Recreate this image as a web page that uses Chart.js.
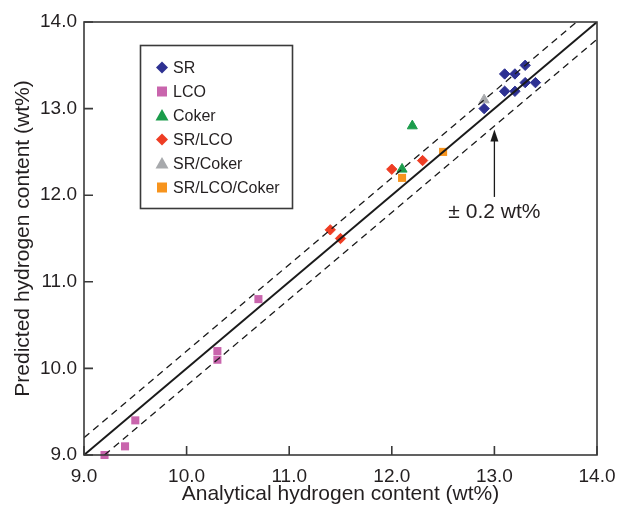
<!DOCTYPE html>
<html>
<head>
<meta charset="utf-8">
<script src="https://cdn.jsdelivr.net/npm/chart.js@4/dist/chart.umd.min.js"></script>
<style>
  html, body { margin: 0; padding: 0; background: #fff; }
</style>
</head>
<body>
<canvas id="grafico" width="619" height="507"></canvas>
<script>
// values
const srX = [13.1, 13.2, 13.3, 13.1, 13.2, 13.3, 13.4, 12.9];
const srY = [13.4, 13.4, 13.5, 13.2, 13.2, 13.3, 13.3, 13.0];
const lcoX = [10.7, 10.3, 10.3, 9.5, 9.4, 9.2];
const lcoY = [10.8, 10.2, 10.1, 9.4, 9.1, 9.0];
const cokerX = [12.2, 12.1];
const cokerY = [12.8, 12.3];
const srLcoX = [12.0, 12.3, 11.4, 11.5];
const srLcoY = [12.3, 12.4, 11.6, 11.5];
const srCokerX = [12.9];
const srCokerY = [13.1];
const srLcoCokerX = [12.1, 12.5];
const srLcoCokerY = [12.2, 12.5];

// y = x and the +/- 0.2 wt% band (end points)
const parityX = [9.0, 14.0];
const parityY = [9.0, 14.0];
const upperX = [9.0, 13.8];
const upperY = [9.2, 14.0];
const lowerX = [9.2, 14.0];
const lowerY = [9.0, 13.8];

const tickValues = [9, 10, 11, 12, 13, 14];

// arrow + label for the band
const arrowX = 13.0;
const arrowFrom = 11.98;
const arrowTo = 12.76;
const bandLabel = '± 0.2 wt%';
const bandLabelY = 11.80;

const FONT = "'Liberation Sans', Arial, Helvetica, sans-serif";
const TXT = '#231f20';
const AXIS = '#3a3a3a';

const pts = (xs, ys) => xs.map((x, i) => ({ x: x, y: ys[i] }));

function marker(label, xs, ys, color, style, r, bw) {
  return {
    label: label,
    data: pts(xs, ys),
    backgroundColor: color,
    borderColor: color,
    borderWidth: bw,
    pointStyle: style,
    pointRadius: r,
    pointHoverRadius: r,
    clip: false
  };
}

function refLine(xs, ys, width, dash) {
  return {
    type: 'line',
    label: '',
    data: pts(xs, ys),
    borderColor: '#1a1a1a',
    borderWidth: width,
    borderDash: dash,
    pointRadius: 0,
    fill: false,
    showLine: true,
    isRef: true
  };
}

const datasets = [
  refLine(parityX, parityY, 2, []),
  refLine(upperX, upperY, 1.3, [7, 5]),
  refLine(lowerX, lowerY, 1.3, [7, 5]),
  marker('SR', srX, srY, '#2e3192', 'rectRot', 5.2, 1),
  marker('LCO', lcoX, lcoY, '#c965ad', 'rect', 5.7, 0),
  marker('Coker', cokerX, cokerY, '#1b9c4b', 'triangle', 5.8, 1),
  marker('SR/LCO', srLcoX, srLcoY, '#ee3d24', 'rectRot', 5.2, 1),
  marker('SR/Coker', srCokerX, srCokerY, '#a7a9ac', 'triangle', 5.8, 1),
  marker('SR/LCO/Coker', srLcoCokerX, srLcoCokerY, '#f7941d', 'rect', 5.7, 0)
];

function drawMark(ctx, style, x, y, color) {
  ctx.save();
  ctx.fillStyle = color;
  ctx.beginPath();
  if (style === 'rectRot') {
    ctx.moveTo(x, y - 6); ctx.lineTo(x + 6, y); ctx.lineTo(x, y + 6); ctx.lineTo(x - 6, y);
  } else if (style === 'rect') {
    ctx.rect(x - 5, y - 5, 10, 10);
  } else {
    ctx.moveTo(x, y - 6.5); ctx.lineTo(x + 6.5, y + 5); ctx.lineTo(x - 6.5, y + 5);
  }
  ctx.closePath();
  ctx.fill();
  ctx.restore();
}

const decor = {
  id: 'decor',
  afterDatasetsDraw(chart) {
    const ctx = chart.ctx;
    const a = chart.chartArea;
    const xs = chart.scales.x, ys = chart.scales.y;
    ctx.save();
    // frame
    ctx.strokeStyle = AXIS;
    ctx.lineWidth = 1.6;
    ctx.strokeRect(a.left, a.top, a.right - a.left, a.bottom - a.top);
    // inward ticks
    ctx.beginPath();
    tickValues.forEach(v => {
      const px = xs.getPixelForValue(v);
      ctx.moveTo(px, a.bottom); ctx.lineTo(px, a.bottom - 9);
      const py = ys.getPixelForValue(v);
      ctx.moveTo(a.left, py); ctx.lineTo(a.left + 9, py);
    });
    ctx.stroke();

    // arrow
    const ax = xs.getPixelForValue(arrowX);
    const y0 = ys.getPixelForValue(arrowFrom);
    const y1 = ys.getPixelForValue(arrowTo);
    ctx.strokeStyle = '#1a1a1a';
    ctx.lineWidth = 1.3;
    ctx.beginPath();
    ctx.moveTo(ax, y0); ctx.lineTo(ax, y1 + 10);
    ctx.stroke();
    ctx.fillStyle = '#1a1a1a';
    ctx.beginPath();
    ctx.moveTo(ax, y1); ctx.lineTo(ax + 4, y1 + 12); ctx.lineTo(ax - 4, y1 + 12);
    ctx.closePath();
    ctx.fill();
    ctx.font = '21px ' + FONT;
    ctx.fillStyle = TXT;
    ctx.textAlign = 'center';
    ctx.textBaseline = 'middle';
    ctx.fillText(bandLabel, ax, ys.getPixelForValue(bandLabelY));

    // legend box
    const bx = 140.5, by = 45.5, bw = 152, bh = 163;
    ctx.fillStyle = '#fff';
    ctx.fillRect(bx, by, bw, bh);
    ctx.strokeStyle = AXIS;
    ctx.lineWidth = 1.6;
    ctx.strokeRect(bx, by, bw, bh);
    ctx.font = '16px ' + FONT;
    ctx.textAlign = 'left';
    ctx.textBaseline = 'middle';
    let row = 0;
    chart.data.datasets.forEach(ds => {
      if (ds.isRef) return;
      const ly = 67.5 + row * 24;
      drawMark(ctx, ds.pointStyle, 162, ly, ds.backgroundColor);
      ctx.fillStyle = TXT;
      ctx.fillText(ds.label, 173, ly + 1);
      row++;
    });
    ctx.restore();
  }
};

const ctx = document.getElementById('grafico').getContext('2d');

new Chart(ctx, {
  type: 'scatter',
  data: { datasets: datasets },
  plugins: [decor],
  options: {
    responsive: false,
    animation: false,
    events: [],
    layout: { padding: { top: 22, right: 22, left: 0, bottom: 0 } },
    plugins: {
      legend: { display: false },
      tooltip: { enabled: false }
    },
    scales: {
      x: {
        type: 'linear',
        min: 9,
        max: 14,
        afterBuildTicks: s => { s.ticks = tickValues.map(v => ({ value: v })); },
        afterFit: s => { s.height = 52; s.paddingLeft = 0; s.paddingRight = 0; },
        grid: { display: false, drawTicks: false },
        border: { display: false },
        ticks: {
          callback: v => v.toFixed(1),
          font: { family: FONT, size: 19 },
          color: TXT,
          padding: 10,
          maxRotation: 0
        },
        title: {
          display: true,
          text: 'Analytical hydrogen content (wt%)',
          font: { family: FONT, size: 21 },
          color: TXT,
          padding: { top: 0, bottom: 0 }
        }
      },
      y: {
        type: 'linear',
        min: 9,
        max: 14,
        afterBuildTicks: s => { s.ticks = tickValues.map(v => ({ value: v })); },
        afterFit: s => { s.width = 84; s.paddingTop = 0; s.paddingBottom = 0; },
        grid: { display: false, drawTicks: false },
        border: { display: false },
        ticks: {
          callback: v => v.toFixed(1),
          font: { family: FONT, size: 19 },
          color: TXT,
          padding: 7
        },
        title: {
          display: true,
          text: 'Predicted hydrogen content (wt%)',
          font: { family: FONT, size: 21 },
          color: TXT,
          padding: { top: 11, bottom: 0 }
        }
      }
    }
  }
});
</script>
</body>
</html>
